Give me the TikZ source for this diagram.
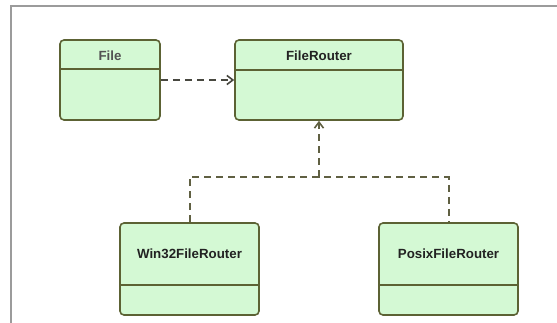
\documentclass[tikz,border=0pt]{standalone}
\usepackage{fontspec}
\setmainfont{Liberation Sans}
\usetikzlibrary{arrows.meta}
\definecolor{boxfill}{RGB}{212,249,212}
\definecolor{boxline}{RGB}{92,98,52}
\definecolor{depline}{RGB}{72,72,64}
\definecolor{realline}{RGB}{96,96,66}
\definecolor{framegray}{RGB}{155,155,155}
\definecolor{titletext}{RGB}{34,34,34}
\tikzset{
  classbox/.style={draw=boxline, fill=boxfill, line width=1.6pt, rounded corners=4pt,
    minimum width=#1, inner sep=0pt},
  divider/.style={draw=boxline, line width=1.5pt},
  title/.style={font=\bfseries\fontsize{13.3}{15}\selectfont, text=titletext, inner sep=0pt},
  dashlink/.style={line width=2pt, dash pattern=on 7pt off 5pt},
  opentip/.style={-{Straight Barb[length=6pt,width=9pt,line width=1.6pt]}},
}
\begin{document}
\begin{tikzpicture}[x=1pt,y=-1pt]
  \useasboundingbox (0,0) rectangle (557,323);
  % outer frame
  \draw[framegray, line width=2.5pt] (11,330) -- (11,6) -- (565,6);

  % class boxes
  \node[classbox=100pt, minimum height=80pt] (file) at (110,80) {};
  \node[classbox=168pt, minimum height=80pt] (router) at (319,80) {};
  \node[classbox=139pt, minimum height=92pt] (win) at (189.5,269) {};
  \node[classbox=139pt, minimum height=92pt] (posix) at (448.5,269) {};

  % compartment dividers
  \draw[divider] (file.west |- 0,69) -- (file.east |- 0,69);
  \draw[divider] (router.west |- 0,70) -- (router.east |- 0,70);
  \draw[divider] (win.west |- 0,285) -- (win.east |- 0,285);
  \draw[divider] (posix.west |- 0,285) -- (posix.east |- 0,285);

  % class names
  \node[title, text=black!68] (filename) at (110,56) {File};
  \node[title] (routername) at (319,56) {FileRouter};
  \node[title] (winname) at (189.5,254) {Win32FileRouter};
  \node[title] (posixname) at (448.5,254) {PosixFileRouter};

  % dependency File -> FileRouter
  \draw[dashlink, depline, opentip] (file.east |- 0,80) -- (router.west |- 0,80);

  % realizations of FileRouter
  \coordinate (join) at (router.south |- 0,177);
  \draw[dashlink, realline] (win.north) |- (join) -| (posix.north);
  \draw[dashlink, realline, opentip] (join) -- (router.south);
\end{tikzpicture}
\end{document}
